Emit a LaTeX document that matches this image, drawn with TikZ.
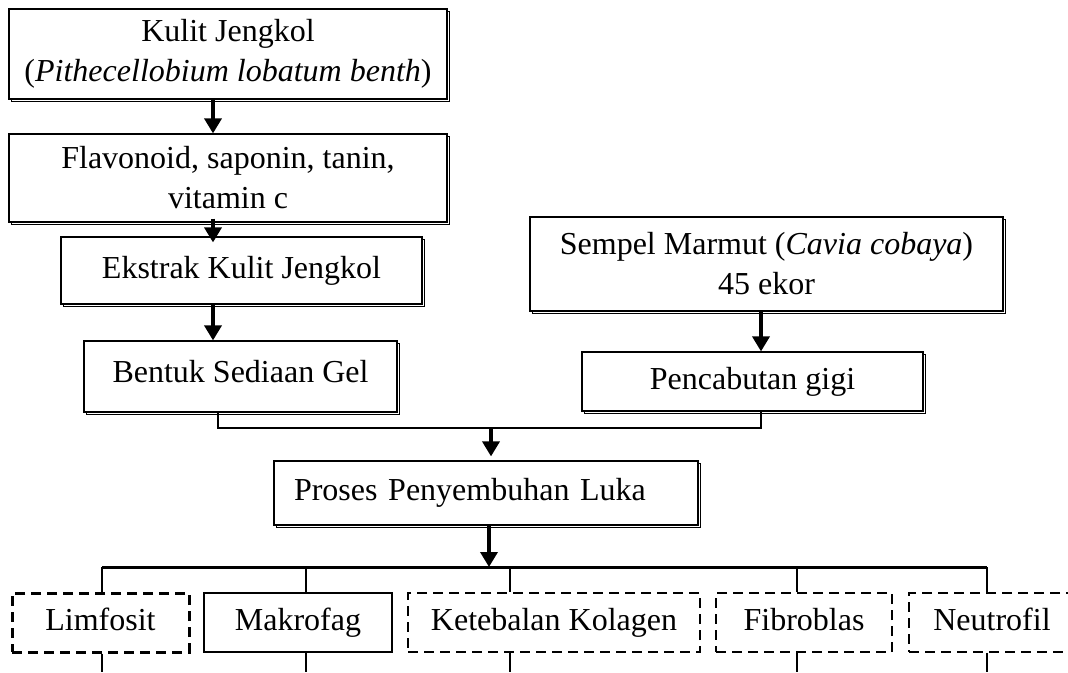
\documentclass[tikz,border=0pt]{standalone}
\usepackage{fontspec}
\setmainfont{Liberation Serif}
\usetikzlibrary{arrows.meta,shadows}

\tikzset{
    box/.style={draw, line width=1.2pt, fill=white, inner sep=0pt, align=center, font=\fontsize{32}{40}\selectfont},
    shadowbox/.style={box, drop shadow={shadow xshift=2.5pt, shadow yshift=-2.5pt, fill=none, draw=black, line width=0.8pt, opacity=1}},
    leaf/.style={box, minimum height=59, text height=23pt, text depth=7pt},
    dashbox/.style={leaf, line width=1.7pt, dash pattern=on 10pt off 6pt},
    arr/.style={line width=3.5pt, -{Triangle[width=17pt,length=15pt]}},
    link/.style={line width=1.5pt},
}

\begin{document}
\begin{tikzpicture}[x=1pt, y=-1pt]
        \useasboundingbox (0,0) rectangle (1068,672);
        \clip (0,0) rectangle (1068,672);

        \node[shadowbox, minimum width=438, minimum height=90] (kulit) at (228,54) {Kulit Jengkol\\(\textit{Pithecellobium lobatum benth})};
        \node[shadowbox, minimum width=438, minimum height=88] (flav) at (228,178) {Flavonoid, saponin, tanin,\\vitamin c};
        \node[shadowbox, minimum width=361, minimum height=67] (ekstrak) at (241.5,270.5) {Ekstrak Kulit Jengkol};
        \node[shadowbox, minimum width=313, minimum height=71, text depth=10pt] (bentuk) at (240.5,376.5) {Bentuk Sediaan Gel};
        \node[shadowbox, minimum width=473, minimum height=94] (sempel) at (766.5,264) {Sempel Marmut (\textit{Cavia cobaya})\\45 ekor};
        \node[shadowbox, minimum width=341, minimum height=59] (cabut) at (752.5,381.5) {Pencabutan gigi};
        \node[shadowbox, minimum width=424, minimum height=64, inner xsep=20pt, text width=384pt, align=left] (proses) at (486,493) {Proses Penyembuhan Luka};

        \node[dashbox, line width=3pt, minimum width=177] (limfosit) at (100.5,622.5) {Limfosit};
        \node[leaf, minimum width=188] (makrofag) at (298,622.5) {Makrofag};
        \node[dashbox, minimum width=292] (kolagen) at (554,622.5) {Ketebalan Kolagen};
        \node[dashbox, minimum width=176] (fibroblas) at (804,622.5) {Fibroblas};
        \node[dashbox, minimum width=166] (neutrofil) at (992,622.5) {Neutrofil};

        \coordinate (colL) at (213,0);
        \coordinate (colR) at (761,0);
        \coordinate (join) at (0,428);
        \coordinate (bus) at (0,567);
        \coordinate (edge) at (0,672);

        \draw[arr] (kulit.south -| colL) -- (flav.north -| colL);
        \draw[arr] ([yshift=4pt]flav.south -| colL) -- ([yshift=-6pt]ekstrak.north -| colL);
        \draw[arr] (ekstrak.south -| colL) -- (bentuk.north -| colL);
        \draw[arr] (sempel.south -| colR) -- (cabut.north -| colR);

        \draw[link, line width=2.5pt] (bentuk.south -| 218,0) -- (join -| 218,0) -- (join -| colR) -- (cabut.south -| colR);
        \draw[arr] (join -| 491,0) -- ([yshift=4pt]proses.north -| 491,0);
        \draw[arr] (proses.south -| 489,0) -- (bus -| 489,0);

        \draw[line width=3pt] (bus -| 102,0) -- (bus -| 987,0);
        \foreach \n/\x in {limfosit/102, makrofag/306, kolagen/510, fibroblas/797, neutrofil/987} {
            \draw[link] (bus -| \x,0) -- (\n.north -| \x,0);
            \draw[link] (\n.south -| \x,0) -- (edge -| \x,0);
        }
\end{tikzpicture}
\end{document}
